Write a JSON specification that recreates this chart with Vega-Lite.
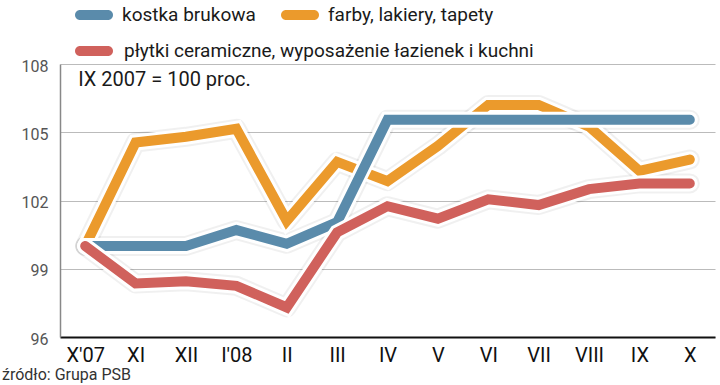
{
  "$schema": "https://vega.github.io/schema/vega-lite/v6.json",
  "width": 655,
  "height": 273,
  "autosize": {"type": "none"},
  "padding": {"left": 60, "top": 64, "right": 5, "bottom": 48},
  "background": "white",
  "config": {"font": "Roboto", "view": {"stroke": null}},
  "title": {
    "text": "źródło: Grupa PSB",
    "orient": "bottom",
    "anchor": "start",
    "frame": "group",
    "dx": -58,
    "offset": 2,
    "fontSize": 16,
    "fontWeight": "normal",
    "color": "#333333",
    "font": "Roboto"
  },
  "datasets": {
    "d": [
      {"m": "X'07", "s": "kostka brukowa", "v": 100},
      {"m": "XI", "s": "kostka brukowa", "v": 100},
      {"m": "XII", "s": "kostka brukowa", "v": 100},
      {"m": "I'08", "s": "kostka brukowa", "v": 100.7},
      {"m": "II", "s": "kostka brukowa", "v": 100.1},
      {"m": "III", "s": "kostka brukowa", "v": 101.05},
      {"m": "IV", "s": "kostka brukowa", "v": 105.55},
      {"m": "V", "s": "kostka brukowa", "v": 105.55},
      {"m": "VI", "s": "kostka brukowa", "v": 105.55},
      {"m": "VII", "s": "kostka brukowa", "v": 105.55},
      {"m": "VIII", "s": "kostka brukowa", "v": 105.55},
      {"m": "IX", "s": "kostka brukowa", "v": 105.55},
      {"m": "X", "s": "kostka brukowa", "v": 105.55},
      {"m": "X'07", "s": "farby, lakiery, tapety", "v": 100},
      {"m": "XI", "s": "farby, lakiery, tapety", "v": 104.55},
      {"m": "XII", "s": "farby, lakiery, tapety", "v": 104.8},
      {"m": "I'08", "s": "farby, lakiery, tapety", "v": 105.15},
      {"m": "II", "s": "farby, lakiery, tapety", "v": 101.1},
      {"m": "III", "s": "farby, lakiery, tapety", "v": 103.7},
      {"m": "IV", "s": "farby, lakiery, tapety", "v": 102.85},
      {"m": "V", "s": "farby, lakiery, tapety", "v": 104.4},
      {"m": "VI", "s": "farby, lakiery, tapety", "v": 106.2},
      {"m": "VII", "s": "farby, lakiery, tapety", "v": 106.2},
      {"m": "VIII", "s": "farby, lakiery, tapety", "v": 105.25},
      {"m": "IX", "s": "farby, lakiery, tapety", "v": 103.3},
      {"m": "X", "s": "farby, lakiery, tapety", "v": 103.8},
      {"m": "X'07", "s": "płytki ceramiczne, wyposażenie łazienek i kuchni", "v": 100},
      {"m": "XI", "s": "płytki ceramiczne, wyposażenie łazienek i kuchni", "v": 98.35},
      {"m": "XII", "s": "płytki ceramiczne, wyposażenie łazienek i kuchni", "v": 98.45},
      {"m": "I'08", "s": "płytki ceramiczne, wyposażenie łazienek i kuchni", "v": 98.25},
      {"m": "II", "s": "płytki ceramiczne, wyposażenie łazienek i kuchni", "v": 97.3},
      {"m": "III", "s": "płytki ceramiczne, wyposażenie łazienek i kuchni", "v": 100.6},
      {"m": "IV", "s": "płytki ceramiczne, wyposażenie łazienek i kuchni", "v": 101.75},
      {"m": "V", "s": "płytki ceramiczne, wyposażenie łazienek i kuchni", "v": 101.2},
      {"m": "VI", "s": "płytki ceramiczne, wyposażenie łazienek i kuchni", "v": 102.05},
      {"m": "VII", "s": "płytki ceramiczne, wyposażenie łazienek i kuchni", "v": 101.8},
      {"m": "VIII", "s": "płytki ceramiczne, wyposażenie łazienek i kuchni", "v": 102.5},
      {"m": "IX", "s": "płytki ceramiczne, wyposażenie łazienek i kuchni", "v": 102.75},
      {"m": "X", "s": "płytki ceramiczne, wyposażenie łazienek i kuchni", "v": 102.75}
    ],
    "note": [{"m": "X'07", "v": 107.3, "t": "IX 2007 = 100 proc."}]
  },
  "encoding": {
    "x": {
      "field": "m",
      "type": "ordinal",
      "scale": {"type": "point", "padding": 0.5, "domain": ["X'07", "XI", "XII", "I'08", "II", "III", "IV", "V", "VI", "VII", "VIII", "IX", "X"]},
      "axis": {
        "title": null,
        "labelAngle": 0,
        "labelFontSize": 20,
        "labelColor": "#111111",
        "labelPadding": 8,
        "ticks": false,
        "domainColor": "#111111",
        "domainWidth": 2,
        "grid": false
      }
    },
    "y": {
      "field": "v",
      "type": "quantitative",
      "scale": {"domain": [96, 108], "nice": false, "zero": false},
      "axis": {
        "title": null,
        "values": [96, 99, 102, 105, 108],
        "labelFontSize": 16,
        "labelColor": "#555555",
        "labelPadding": 12,
        "ticks": false,
        "domainColor": "#888888",
        "domainWidth": 1.5,
        "grid": true,
        "gridColor": "#bbbbbb",
        "gridWidth": 1,
        "labelBaseline": "middle",
        "labelOffset": 2
      }
    }
  },
  "layer": [
    {
      "data": {"name": "d"},
      "mark": {"type": "line", "stroke": "#000000", "strokeWidth": 20, "opacity": 0.06, "strokeCap": "round", "strokeJoin": "round"},
      "encoding": {"detail": {"field": "s"}}
    },
    {
      "data": {"name": "d"},
      "transform": [{"filter": "datum.s === 'farby, lakiery, tapety'"}],
      "mark": {"type": "line", "stroke": "white", "strokeWidth": 16, "strokeCap": "round", "strokeJoin": "miter"},
      "encoding": {}
    },
    {
      "data": {"name": "d"},
      "transform": [{"filter": "datum.s === 'farby, lakiery, tapety'"}],
      "mark": {"type": "line", "strokeWidth": 10, "strokeCap": "round", "strokeJoin": "miter"},
      "encoding": {
        "color": {
          "field": "s", "type": "nominal",
          "scale": {"domain": ["kostka brukowa", "farby, lakiery, tapety"], "range": ["#5a8bab", "#eb9a2c"]},
          "legend": {
            "title": null,
            "orient": "none",
            "direction": "horizontal",
            "legendX": 15,
            "legendY": -68,
            "padding": 0,
            "columnPadding": 25,
            "symbolType": "M-0.737,-0.263H0.737A0.263,0.263 0 0 1 0.737,0.263H-0.737A0.263,0.263 0 0 1 -0.737,-0.263Z",
            "symbolSize": 1444,
            "labelOffset": 9,
            "labelFontSize": 19,
            "labelColor": "#1a1a1a",
            "labelFont": "Roboto",
            "labelLimit": 0,
            "encode": {"symbols": {"update": {"fill": {"scale": "color", "field": "value"}, "stroke": {"value": "transparent"}, "strokeWidth": {"value": 0}, "opacity": {"value": 1}}}}
          }
        }
      }
    },
    {
      "data": {"name": "d"},
      "transform": [{"filter": "datum.s === 'kostka brukowa'"}],
      "mark": {"type": "line", "stroke": "white", "strokeWidth": 16, "strokeCap": "round", "strokeJoin": "miter"},
      "encoding": {}
    },
    {
      "data": {"name": "d"},
      "transform": [{"filter": "datum.s === 'kostka brukowa'"}],
      "mark": {"type": "line", "strokeWidth": 10, "strokeCap": "round", "strokeJoin": "miter"},
      "encoding": {"color": {"field": "s", "type": "nominal"}}
    },
    {
      "data": {"name": "d"},
      "transform": [{"filter": "datum.s === 'płytki ceramiczne, wyposażenie łazienek i kuchni'"}],
      "mark": {"type": "line", "stroke": "white", "strokeWidth": 16, "strokeCap": "round", "strokeJoin": "miter"},
      "encoding": {}
    },
    {
      "data": {"name": "d"},
      "transform": [{"filter": "datum.s === 'płytki ceramiczne, wyposażenie łazienek i kuchni'"}],
      "mark": {"type": "line", "strokeWidth": 10, "strokeCap": "round", "strokeJoin": "miter"},
      "encoding": {
        "stroke": {
          "field": "s", "type": "nominal",
          "scale": {"domain": ["płytki ceramiczne, wyposażenie łazienek i kuchni"], "range": ["#d0615c"]},
          "legend": {
            "title": null,
            "orient": "none",
            "direction": "horizontal",
            "legendX": 15,
            "legendY": -32,
            "padding": 0,
            "symbolType": "M-0.737,-0.263H0.737A0.263,0.263 0 0 1 0.737,0.263H-0.737A0.263,0.263 0 0 1 -0.737,-0.263Z",
            "symbolSize": 1444,
            "labelOffset": 11,
            "labelFontSize": 19,
            "labelColor": "#1a1a1a",
            "labelFont": "Roboto",
            "labelLimit": 0,
            "encode": {"symbols": {"update": {"fill": {"scale": "stroke", "field": "value"}, "stroke": {"value": "transparent"}, "strokeWidth": {"value": 0}, "opacity": {"value": 1}}}}
          }
        }
      }
    },
    {
      "data": {"name": "note"},
      "mark": {"type": "text", "align": "left", "baseline": "middle", "dx": -7, "fontSize": 20, "color": "#1a1a1a", "font": "Roboto"},
      "encoding": {"text": {"field": "t"}}
    }
  ]
}
